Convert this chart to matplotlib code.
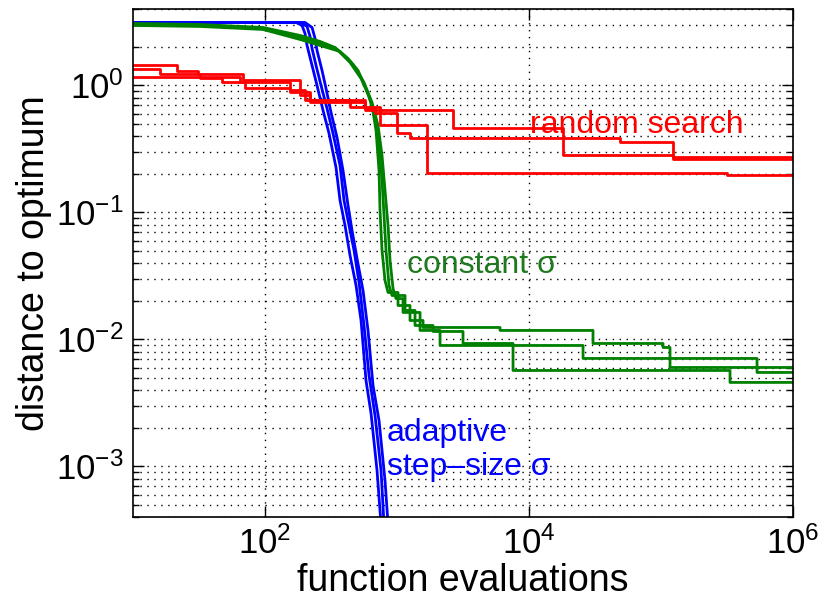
import numpy as np
import matplotlib
matplotlib.use("Agg")
import matplotlib.pyplot as plt
from matplotlib.ticker import LogLocator, NullLocator, NullFormatter

plt.rcParams['font.family'] = ['Liberation Sans', 'DejaVu Sans']
plt.rcParams['mathtext.fontset'] = 'custom'
plt.rcParams['mathtext.rm'] = 'Liberation Sans'
plt.rcParams['mathtext.it'] = 'Liberation Sans:italic'

# random search: best-so-far, piecewise constant (steps-post)
rs1_x = [10, 21.5, 31.0, 68.1, 184, 219, 573, 2655, 18100, 123300, 1e6]
rs1_y = [1.44, 1.29, 1.22, 1.095, 0.834, 0.735, 0.636, 0.459, 0.281, 0.266, 0.266]
rs2_x = [10, 16.0, 32.2, 47.2, 70.5, 155, 219, 440, 743, 1687, 316000, 1e6]
rs2_y = [1.36, 1.22, 1.135, 1.056, 0.947, 0.881, 0.762, 0.671, 0.484, 0.203, 0.196, 0.196]
rs3_x = [10, 64.7, 155, 201, 573, 681, 1000, 1254, 48900, 123300, 1e6]
rs3_y = [1.156, 1.056, 0.913, 0.762, 0.659, 0.602, 0.426, 0.383, 0.356, 0.271, 0.271]

# constant sigma
cs1_x = [10, 32.2, 96.6, 184.2, 261, 339.1, 425.5, 506.5, 582.3, 646.6, 693.4, 730.6, 743.3,
         769.9, 811.1, 855.1, 1017.6, 1017.6, 1254, 1254, 1574, 1574, 6030, 6030, 30530, 30530,
         103600, 103600, 117000, 117000, 1e6]
cs1_y = [3.078, 3.021, 2.862, 2.476, 2.221, 1.991, 1.632, 1.313, 0.947, 0.696, 0.442, 0.214, 0.1037,
         0.0502, 0.0291, 0.02345, 0.02345, 0.01852, 0.01852, 0.01411, 0.01411, 0.01243, 0.01243,
         0.01178, 0.01178, 0.0093, 0.0093, 0.00865, 0.00865, 0.00602, 0.00602]
cs2_x = [10, 32.2, 96.6, 184.2, 261, 351.2, 440.6, 533.8, 613.6, 681.3, 730.6, 769.9, 797.3, 825.4,
         869.8, 916.6, 1150, 1150, 1369, 1369, 1874, 1874, 3162, 3162, 7566, 7566, 333200, 333200, 1e6]
cs2_y = [3.021, 2.968, 2.811, 2.388, 2.142, 1.92, 1.517, 1.135, 0.819, 0.55, 0.337, 0.1786, 0.0947,
         0.0502, 0.0266, 0.0222, 0.0222, 0.01692, 0.01692, 0.01289, 0.01289, 0.01156, 0.01156,
         0.0093, 0.0093, 0.0057, 0.0057, 0.00459, 0.00459]
cs3_x = [10, 32.2, 96.6, 184.2, 261, 370.0, 464.2, 562.3, 646.6, 718.2, 769.9, 811.1, 855.1, 885.1,
         932.7, 982.7, 1110, 1110, 1494, 1494, 2118, 2118, 25660, 25660, 533800, 533800, 1e6]
cs3_y = [2.968, 2.915, 2.76, 2.303, 2.065, 1.852, 1.463, 1.056, 0.735, 0.484, 0.281, 0.149, 0.079,
         0.0419, 0.0252, 0.021, 0.021, 0.01632, 0.01632, 0.01178, 0.01178, 0.00897, 0.00897,
         0.00709, 0.00709, 0.0055, 0.0055]

# adaptive step-size sigma
as1_x = [10, 171.7, 190.7, 200.9, 208.1, 227.1, 247.7, 275.1, 305.4, 345.1, 370.0, 403.7, 440.6,
         489.3, 533.8, 582.3, 635.5, 705.6, 756.6]
as1_y = [3.134, 3.134, 2.968, 2.567, 2.065, 1.437, 1.0, 0.636, 0.419, 0.226, 0.1243, 0.079, 0.0459,
         0.0266, 0.01411, 0.00475, 0.00262, 0.00093, 0.00035]
as2_x = [10, 184.2, 208.1, 219.3, 227.1, 243.5, 265.7, 294.9, 327.5, 370.0, 396.8, 433.0, 472.5,
         515.4, 562.3, 613.6, 681.3, 756.6, 797.3]
as2_y = [3.134, 3.134, 2.915, 2.431, 1.956, 1.437, 1.0, 0.659, 0.419, 0.2345, 0.1243, 0.079, 0.0502,
         0.0281, 0.01289, 0.00521, 0.00252, 0.00093, 0.00035]
as3_x = [10, 200.9, 227.1, 239.3, 247.7, 270.3, 289.8, 316.2, 351.2, 389.9, 425.5, 456.3, 497.7,
         552.7, 603.0, 658.0, 730.6, 811.1, 855.1]
as3_y = [3.134, 3.134, 2.862, 2.345, 1.886, 1.313, 0.947, 0.613, 0.39, 0.214, 0.1135, 0.0722, 0.0434,
         0.0243, 0.01178, 0.00434, 0.0023, 0.000776, 0.00035]

red = '#ff0000'
green = '#008000'
blue = '#0000ff'

fig = plt.figure(figsize=(8.33, 6.04), dpi=100)
ax = fig.add_axes([0.1597, 0.144, 0.7923, 0.8411])

for x, y in [(as1_x, as1_y), (as2_x, as2_y), (as3_x, as3_y)]:
    ax.plot(x, y, color=blue, lw=2)
for x, y in [(cs1_x, cs1_y), (cs2_x, cs2_y), (cs3_x, cs3_y)]:
    ax.plot(x, y, color=green, lw=2)
for x, y in [(rs1_x, rs1_y), (rs2_x, rs2_y), (rs3_x, rs3_y)]:
    ax.plot(x, y, color=red, lw=2, drawstyle='steps-post')

ax.set_xscale('log')
ax.set_yscale('log')
ax.set_xlim(10, 1e6)
ax.set_ylim(4e-4, 4)
ax.set_xticks([1e2, 1e4, 1e6])
ax.xaxis.set_minor_locator(NullLocator())
ax.yaxis.set_major_locator(LogLocator(base=10, numticks=10))
ax.yaxis.set_minor_locator(LogLocator(base=10, subs=np.arange(2, 10), numticks=20))
ax.yaxis.set_minor_formatter(NullFormatter())

dots = (0, (1, 4))
ax.grid(True, which='major', axis='both', linestyle=dots, color='k', lw=1)
ax.grid(True, which='minor', axis='y', linestyle=dots, color='k', lw=1)
ax.set_axisbelow(True)

ax.tick_params(which='both', direction='in', top=True, right=True, width=1)
ax.tick_params(which='major', length=8, labelsize=25, pad=7)
ax.tick_params(which='minor', length=4)
for s in ax.spines.values():
    s.set_linewidth(1.2)

ax.set_xlabel('function evaluations', fontsize=27, labelpad=1)
ax.set_ylabel('distance to optimum', fontsize=27, labelpad=3)

ax.text(10190, 0.484, 'random search', color=red, fontsize=23, va='center', ha='left')
ax.text(1191, 0.0383, 'constant σ', color='#1f7a1f', fontsize=23, va='center', ha='left')
ax.text(840, 0.00135, 'adaptive\nstep\u2013size σ', color=blue, fontsize=23,
        va='center', ha='left', linespacing=1.15)

fig.savefig('out.png', dpi=100)
